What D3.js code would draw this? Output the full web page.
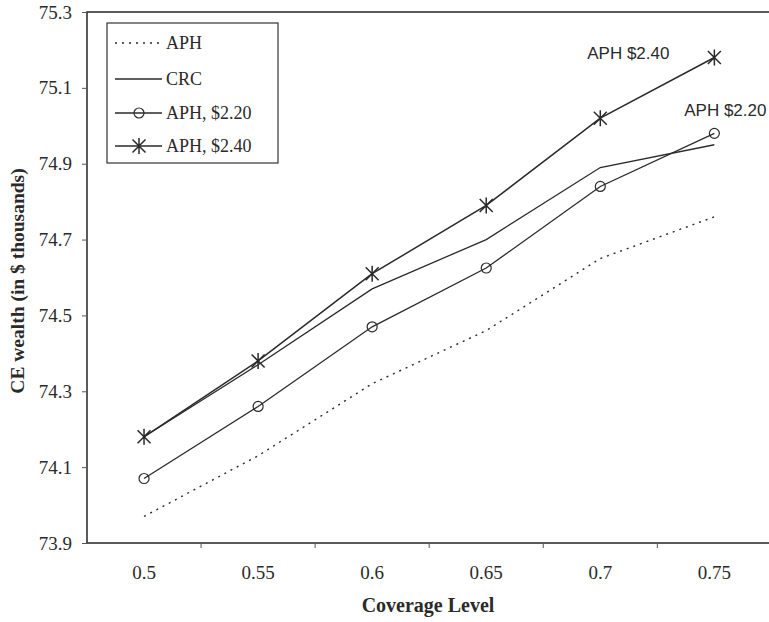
<!DOCTYPE html>
<html><head><meta charset="utf-8">
<script src="https://cdn.jsdelivr.net/npm/d3@7"></script>
<style>body{margin:0;background:#fff}svg{display:block}</style>
</head><body>
<script>
const categories = ["0.5","0.55","0.6","0.65","0.7","0.75"];
const aph   = [73.97, 74.13, 74.32, 74.46, 74.65, 74.76];
const crc   = [74.18, 74.37, 74.57, 74.70, 74.89, 74.95];
const aph220 = [74.07, 74.26, 74.47, 74.625, 74.84, 74.98];
const aph240 = [74.18, 74.38, 74.61, 74.79, 75.02, 75.18];
const yTicks = [73.9, 74.1, 74.3, 74.5, 74.7, 74.9, 75.1, 75.3];
const seriesNames = ["APH", "CRC", "APH, $2.20", "APH, $2.40"];
const annotations = [{text:"APH $2.40", series:3}, {text:"APH $2.20", series:2}];

const W = 769, H = 622;
const mLeft = 87, mTop = 12, mBottom = 543, mRight = 772;
const svg = d3.select("body").append("svg").attr("width", W).attr("height", H);

const x = d3.scaleBand().domain(categories).range([mLeft, mRight - 0.6]).paddingInner(0).paddingOuter(0);
const y = d3.scaleLinear().domain([73.9, 75.3]).range([mBottom, mTop]);
const cx = c => x(c) + x.bandwidth() / 2;

const serif = "'Liberation Serif','Times New Roman',serif";
const ink = "#2a2a2a";

// frame
svg.append("rect").attr("x", mLeft).attr("y", mTop).attr("width", mRight - mLeft).attr("height", mBottom - mTop)
  .attr("fill", "none").attr("stroke", "#333").attr("stroke-width", 1.6);

// y axis
const yAxis = svg.append("g").attr("transform", `translate(${mLeft},0)`)
  .call(d3.axisLeft(y).tickValues(yTicks).tickFormat(d3.format(".1f")).tickSize(5).tickPadding(10));
yAxis.select(".domain").remove();
yAxis.selectAll("line").attr("stroke", "#555");
yAxis.selectAll("text").attr("font-family", serif).attr("font-size", 19).attr("fill", ink);

// x axis
const xAxis = svg.append("g").attr("transform", `translate(0,${mBottom})`)
  .call(d3.axisBottom(x).tickSize(0).tickPadding(23));
xAxis.select(".domain").remove();
xAxis.selectAll("text").attr("font-family", serif).attr("font-size", 19).attr("fill", ink);
// category boundary ticks
svg.append("g").selectAll("line").data(categories.slice(1)).join("line")
  .attr("x1", d => x(d)).attr("x2", d => x(d)).attr("y1", mBottom).attr("y2", mBottom + 5)
  .attr("stroke", "#555");

// titles
svg.append("text").attr("x", 428).attr("y", 612).attr("text-anchor", "middle")
  .attr("font-family", serif).attr("font-weight", "bold").attr("font-size", 20).attr("fill", ink)
  .text("Coverage Level");
svg.append("text").attr("transform", "translate(24,281) rotate(-90)").attr("text-anchor", "middle")
  .attr("font-family", serif).attr("font-weight", "bold").attr("font-size", 19.5).attr("fill", ink)
  .text("CE wealth (in $ thousands)");

const all = [aph, crc, aph220, aph240];
const line = d3.line().x((d, i) => cx(categories[i])).y(d => y(d));
const styles = [
  {dash: "2,5", width: 1.4},
  {dash: null, width: 1.3},
  {dash: null, width: 1.3},
  {dash: null, width: 1.5}
];
all.forEach((s, k) => {
  svg.append("path").datum(s).attr("d", line).attr("fill", "none")
    .attr("stroke", ink).attr("stroke-width", styles[k].width)
    .attr("stroke-dasharray", styles[k].dash);
});

function circleMarker(g, px, py) {
  g.append("circle").attr("cx", px).attr("cy", py).attr("r", 5)
    .attr("fill", "none").attr("stroke", ink).attr("stroke-width", 1.2);
}
function starMarker(g, px, py) {
  const s = 6.5, v = 8;
  g.append("path").attr("d",
    `M${px - s},${py - s}L${px + s},${py + s}M${px - s},${py + s}L${px + s},${py - s}M${px},${py - v}L${px},${py + v}`)
    .attr("stroke", ink).attr("stroke-width", 1.5).attr("fill", "none");
}
const mg = svg.append("g");
aph220.forEach((d, i) => circleMarker(mg, cx(categories[i]), y(d)));
aph240.forEach((d, i) => starMarker(mg, cx(categories[i]), y(d)));

// annotations
const sans = "'Liberation Sans',Arial,sans-serif";
svg.append("text").attr("x", cx(categories[5]) - 86).attr("y", y(aph240[5]) + 1)
  .attr("text-anchor", "middle").attr("font-family", sans).attr("font-size", 17).attr("fill", ink)
  .text(annotations[0].text);
svg.append("text").attr("x", cx(categories[5]) + 11).attr("y", y(aph220[5]) - 17)
  .attr("text-anchor", "middle").attr("font-family", sans).attr("font-size", 17).attr("fill", ink)
  .text(annotations[1].text);

// legend
const lg = svg.append("g");
lg.append("rect").attr("x", 107).attr("y", 23).attr("width", 171).attr("height", 140)
  .attr("fill", "#fff").attr("stroke", "#333").attr("stroke-width", 1.2);
const ly = [43, 79, 113, 146];
seriesNames.forEach((n, k) => {
  lg.append("line").attr("x1", 115).attr("x2", 162).attr("y1", ly[k]).attr("y2", ly[k])
    .attr("stroke", ink).attr("stroke-width", styles[k].width).attr("stroke-dasharray", styles[k].dash);
  if (k === 2) circleMarker(lg, 139, ly[k]);
  if (k === 3) starMarker(lg, 139, ly[k]);
  lg.append("text").attr("x", 166).attr("y", ly[k] + 6).attr("font-family", serif)
    .attr("font-size", 18).attr("fill", ink).text(n);
});
</script>
</body></html>
